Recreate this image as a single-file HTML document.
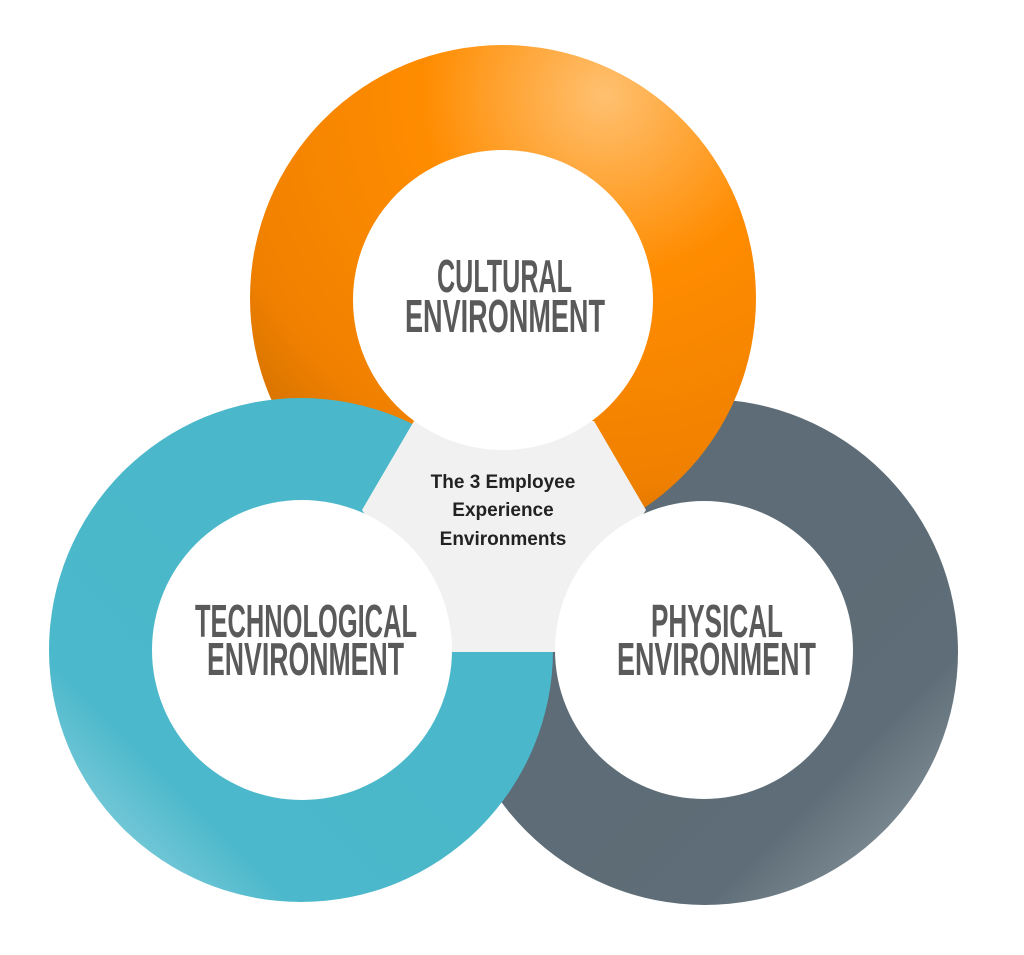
<!DOCTYPE html>
<html><head><meta charset="utf-8"><style>
html,body{margin:0;padding:0;background:#fff;}
svg{display:block;}
.big{font-family:"Liberation Sans",sans-serif;font-weight:bold;font-size:46px;fill:#5a5a5a;}
.sm{font-family:"Liberation Sans",sans-serif;font-weight:bold;font-size:19px;fill:#222;}
</style></head><body>
<svg width="1024" height="955" viewBox="0 0 1024 955" xmlns="http://www.w3.org/2000/svg">
<defs>
<radialGradient id="og" cx="0.7" cy="0.1" r="0.9">
<stop offset="0" stop-color="#ffc070"/><stop offset="0.4" stop-color="#ff8c00"/><stop offset="0.85" stop-color="#f08000"/><stop offset="1" stop-color="#d87400"/></radialGradient>
<linearGradient id="tg" x1="0" y1="1" x2="0.6" y2="0.4">
<stop offset="0" stop-color="#a8dde6"/><stop offset="0.4" stop-color="#4cb8cb"/><stop offset="1" stop-color="#4ab7ca"/></linearGradient>
<linearGradient id="gg" x1="1" y1="1" x2="0.5" y2="0.5">
<stop offset="0" stop-color="#9aa6ad"/><stop offset="0.5" stop-color="#5e6d77"/><stop offset="1" stop-color="#5d6c76"/></linearGradient>
</defs>
<circle cx="705" cy="652" r="253" fill="url(#gg)"/>
<circle cx="503" cy="298" r="253" fill="url(#og)"/>
<circle cx="301" cy="650" r="252" fill="url(#tg)"/>
<polygon points="414,421 594,421 646,510 556,652 452,652 362,510" fill="#f1f1f1"/>
<circle cx="503" cy="300" r="150" fill="#fff"/>
<circle cx="302" cy="650" r="150" fill="#fff"/>
<circle cx="704" cy="650" r="149" fill="#fff"/>
<text class="big" x="437" y="292" textLength="135" lengthAdjust="spacingAndGlyphs">CULTURAL</text>
<text class="big" x="405" y="332" textLength="200" lengthAdjust="spacingAndGlyphs">ENVIRONMENT</text>
<text class="big" x="195" y="637" textLength="222" lengthAdjust="spacingAndGlyphs">TECHNOLOGICAL</text>
<text class="big" x="207" y="675" textLength="197" lengthAdjust="spacingAndGlyphs">ENVIRONMENT</text>
<text class="big" x="651" y="637" textLength="132" lengthAdjust="spacingAndGlyphs">PHYSICAL</text>
<text class="big" x="617" y="675" textLength="199" lengthAdjust="spacingAndGlyphs">ENVIRONMENT</text>
<text class="sm" x="503" y="488" text-anchor="middle">The 3 Employee</text>
<text class="sm" x="503" y="516" text-anchor="middle">Experience</text>
<text class="sm" x="503" y="545" text-anchor="middle">Environments</text>
</svg>
</body></html>
